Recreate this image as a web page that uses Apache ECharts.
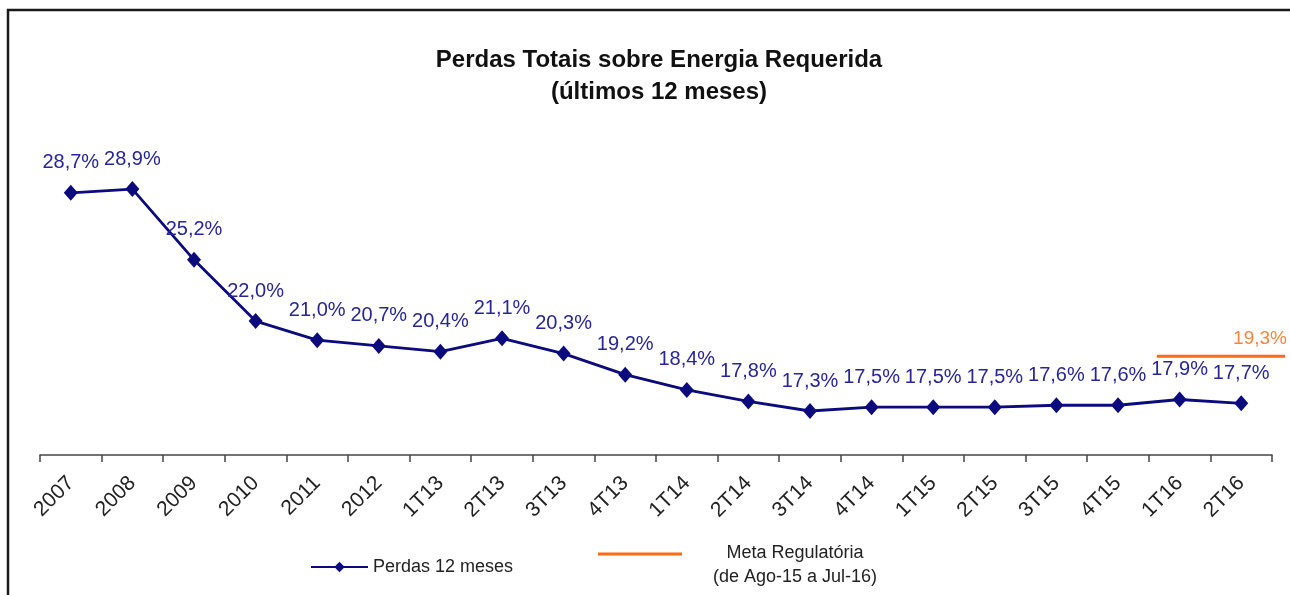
<!DOCTYPE html>
<html>
<head>
<meta charset="utf-8">
<script src="https://cdn.jsdelivr.net/npm/echarts@6/dist/echarts.min.js"></script>
<style>
  html, body { margin: 0; padding: 0; background: #fff; }
  #chart { width: 1290px; height: 595px; }
</style>
</head>
<body>
<div id="chart"></div>
<script>
const categories = ["2007", "2008", "2009", "2010", "2011", "2012", "1T13", "2T13", "3T13", "4T13",
  "1T14", "2T14", "3T14", "4T14", "1T15", "2T15", "3T15", "4T15", "1T16", "2T16"];
const perdas = [28.7, 28.9, 25.2, 22.0, 21.0, 20.7, 20.4, 21.1, 20.3, 19.2,
  18.4, 17.8, 17.3, 17.5, 17.5, 17.5, 17.6, 17.6, 17.9, 17.7];
const metaPeriod = ["Ago-15", "Jul-16"];
const meta = [19.3, 19.3];

const navy = "#0b0b7e";
const orange = "#ff6a14";
const font = "'Liberation Sans', Arial, sans-serif";
const fmt = v => v.toFixed(1).replace(".", ",") + "%";

const chart = echarts.init(document.getElementById("chart"));
chart.setOption({
  animation: false,
  backgroundColor: "#fff",
  title: {
    text: "Perdas Totais sobre Energia Requerida\n(últimos 12 meses)",
    left: 654,
    textAlign: "center",
    top: 39,
    textStyle: { fontFamily: font, fontWeight: "bold", fontSize: 24, lineHeight: 32, color: "#111" }
  },
  graphic: [{
    type: "rect",
    shape: { x: 8, y: 10, width: 1300, height: 600 },
    style: { fill: null, stroke: "#1a1a1a", lineWidth: 2.5 },
    silent: true
  }],
  grid: [
    { left: 40, right: 18, top: 168, bottom: 140 },
    { left: 1157, right: 5, top: 168, bottom: 140 }
  ],
  xAxis: [{
    type: "category",
    gridIndex: 0,
    data: categories,
    boundaryGap: true,
    axisLine: { lineStyle: { color: "#444", width: 1.5 } },
    axisTick: { show: true, interval: 0, length: 7, lineStyle: { color: "#444", width: 1.5 } },
    axisLabel: { rotate: 45, margin: 25, fontFamily: font, fontSize: 21, color: "#222", interval: 0 }
  }, {
    type: "category",
    gridIndex: 1,
    data: metaPeriod,
    boundaryGap: false,
    show: false
  }],
  yAxis: [
    { type: "value", gridIndex: 0, min: 15, max: 30, show: false },
    { type: "value", gridIndex: 1, min: 15, max: 27.5, show: false }
  ],
  legend: [{
    left: 305,
    top: 553,
    itemWidth: 57,
    itemHeight: 13,
    data: ["Perdas 12 meses"],
    textStyle: { fontFamily: font, fontSize: 18, color: "#222" }
  }, {
    left: 593,
    top: 539,
    itemWidth: 84,
    itemHeight: 3,
    data: [{ name: "Meta Regulatória", icon: "rect" }],
    formatter: () => "{a|Meta Regulatória}\n{a|(de Ago-15 a Jul-16)}",
    textStyle: {
      fontFamily: font, fontSize: 18, color: "#222", padding: [22, 0, 0, 0],
      rich: { a: { width: 216, align: "center", fontFamily: font, fontSize: 18, lineHeight: 24, color: "#222" } }
    }
  }],
  series: [{
    name: "Perdas 12 meses",
    type: "line",
    xAxisIndex: 0,
    yAxisIndex: 0,
    data: perdas,
    symbol: "diamond",
    symbolSize: [14, 16],
    color: navy,
    lineStyle: { color: navy, width: 2.8 },
    itemStyle: { color: navy },
    label: {
      show: true,
      position: "top",
      distance: 12,
      formatter: p => fmt(p.value),
      fontFamily: font,
      fontSize: 20,
      color: "#26269a"
    }
  }, {
    name: "Meta Regulatória",
    type: "line",
    xAxisIndex: 1,
    yAxisIndex: 1,
    data: meta.map((v, i) => i === meta.length - 1
      ? { value: v, label: { show: true } }
      : v),
    symbol: "circle",
    symbolSize: 1,
    color: orange,
    lineStyle: { color: orange, width: 3 },
    itemStyle: { color: orange },
    label: {
      show: false,
      position: "top",
      distance: 8,
      offset: [-25, 0],
      formatter: p => fmt(p.value),
      fontFamily: font,
      fontSize: 19,
      color: "#f5863a"
    }
  }]
});
</script>
</body>
</html>
